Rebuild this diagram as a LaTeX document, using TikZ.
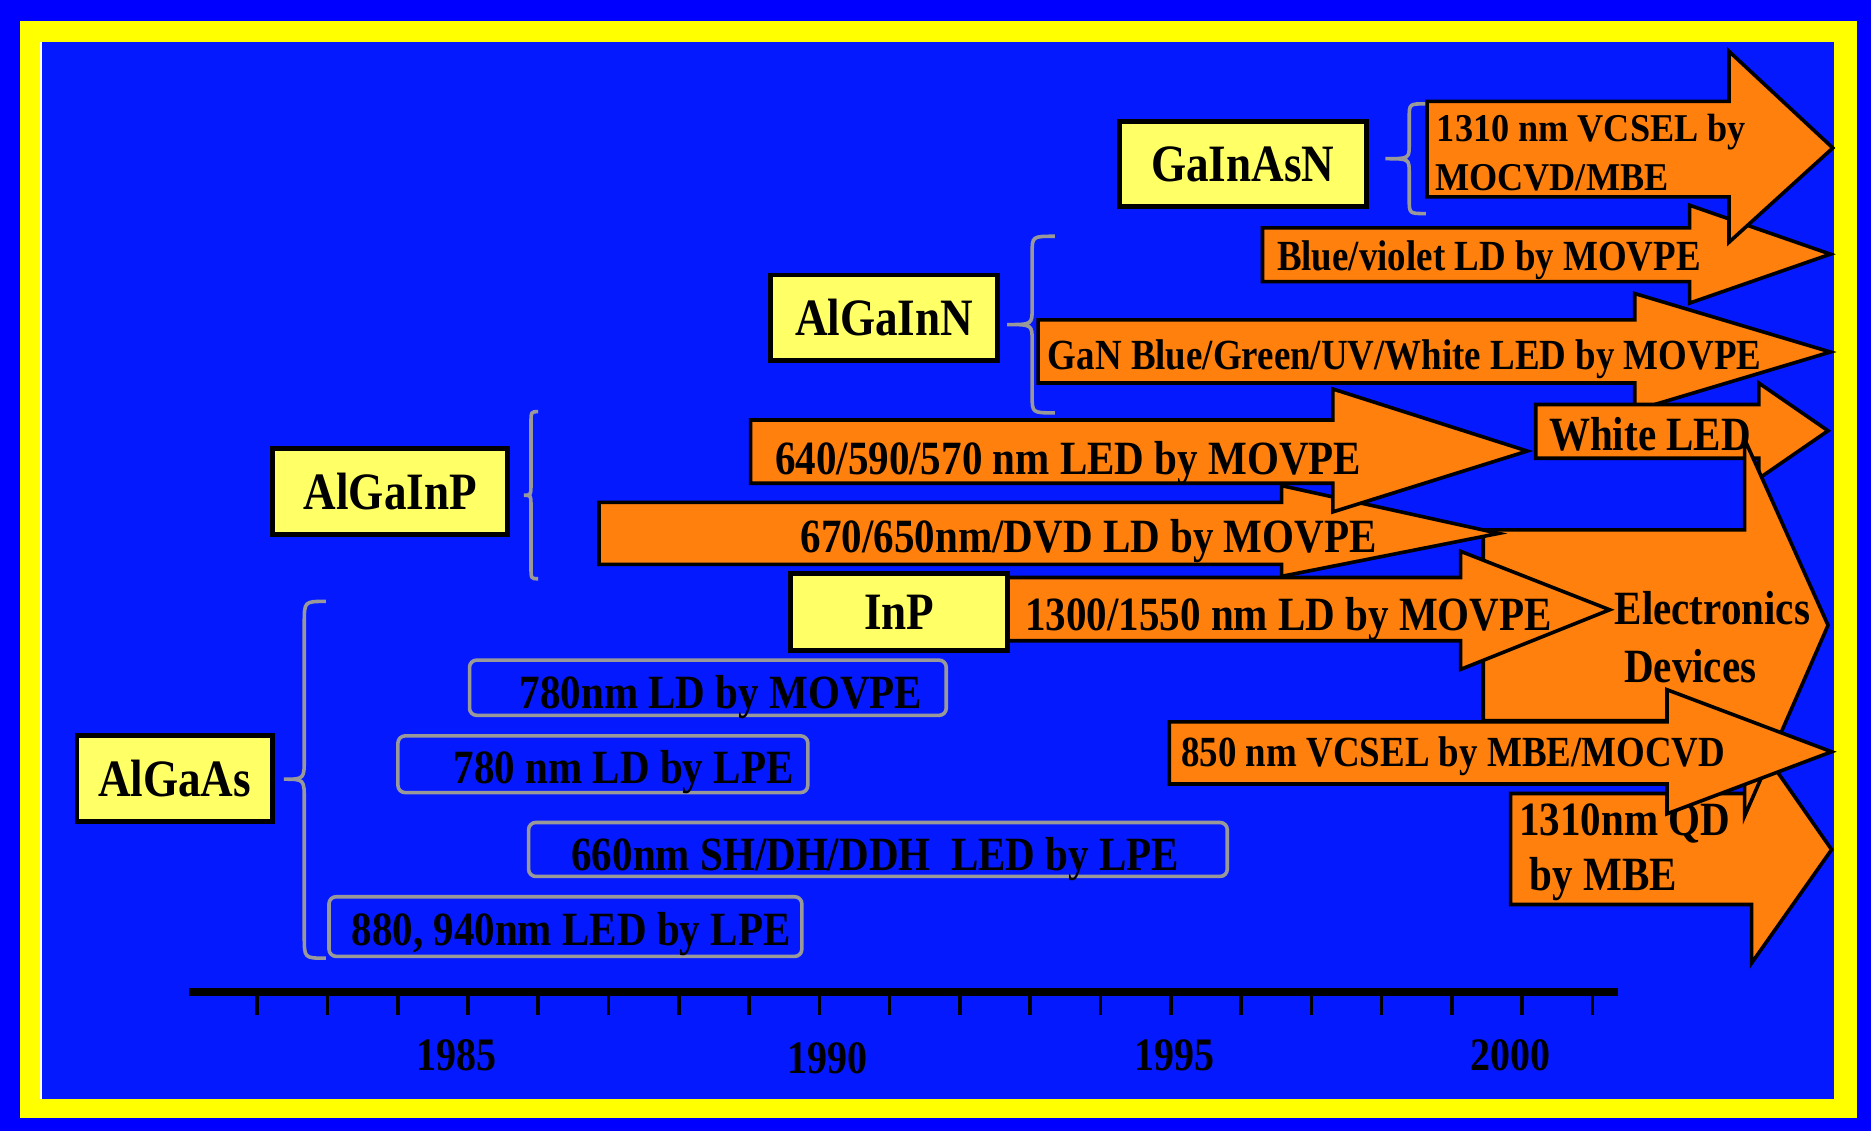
\documentclass[tikz,border=0pt]{standalone}
\usepackage{fontspec}
\setmainfont{Liberation Serif}[FakeStretch=0.86]
\newfontfamily\vcselfont{Liberation Serif}[FakeStretch=0.92]
\definecolor{outerblue}{RGB}{0,0,255}
\definecolor{innerblue}{RGB}{5,25,255}
\definecolor{frameyellow}{RGB}{255,255,0}
\definecolor{boxyellow}{RGB}{255,255,102}
\definecolor{arroworange}{RGB}{255,128,12}
\definecolor{bracegray}{RGB}{153,153,153}
\newcommand\orarrow[8]{\draw[orarrowst] (#1,#2) -- (#4,#2) -- (#4,#5) -- (#7,#8) -- (#4,#6) -- (#4,#3) -- (#1,#3) -- cycle;}
\newcommand\graybrace[7]{\draw[bracest] (#1,#4) .. controls (#2,#4) .. (#2,#4+#7) -- (#2,#5-#7) .. controls (#2,#5) .. (#3,#5) .. controls (#2,#5) .. (#2,#5+#7) -- (#2,#6-#7) .. controls (#2,#6) .. (#1,#6);}
\begin{document}
\begin{tikzpicture}[x=1pt,y=-1pt,
  orarrowst/.style={draw=black, line width=3pt, fill=arroworange, line join=miter},
  bracest/.style={draw=bracegray, line width=3pt},
  graybox/.style={draw=bracegray, line width=3pt, rounded corners=6pt},
  ybox/.style={draw=black, line width=4pt, fill=boxyellow, inner sep=0pt,
    font=\fontsize{44}{44}\selectfont\bfseries},
  tA/.style={anchor=west, inner sep=0pt, text height=26.5pt, text depth=0pt,
    font=\fontsize{40}{40}\selectfont\bfseries},
  tB/.style={anchor=west, inner sep=0pt, text height=23.8pt, text depth=0pt,
    font=\fontsize{36}{36}\selectfont\bfseries},
  tV/.style={anchor=west, inner sep=0pt, text height=21.8pt, text depth=0pt,
    font=\vcselfont\fontsize{33}{33}\selectfont\bfseries},
  tC/.style={anchor=center, inner sep=0pt, text height=26.5pt, text depth=0pt,
    font=\fontsize{40}{40}\selectfont\bfseries},
  yr/.style={anchor=center, inner sep=0pt, text height=26pt, text depth=0pt,
    font=\fontsize{39}{39}\selectfont\bfseries},
  tick/.style={line width=3pt}
]
\useasboundingbox (0,0) rectangle (1568,948);
% frame
\fill[outerblue] (0,0) rectangle (1568,948);
\fill[frameyellow] (17,18) rectangle (1556,937);
\fill[innerblue] (34,35) rectangle (1537,921);
\draw[white, line width=1.5pt] (34.5,35) -- (34.5,921);

% braces
\graybrace{1195}{1181}{1161}{87}{133}{179}{12}
\graybrace{884}{865}{844}{198}{272}{346}{14}
\graybrace{451}{445}{439}{345}{415}{485}{10}
\graybrace{273}{255}{238}{504}{653}{803}{18}

% gray boxes
\draw[graybox] (393.5,553.2) rectangle (793,599.5);
\node[tA] (b780movpe) at (435.4,580.4) {780nm LD by MOVPE};
\draw[graybox] (333.5,616.7) rectangle (677,664.2);
\node[tA] (b780lpe) at (380,643) {780 nm LD by LPE};
\draw[graybox] (443,689.3) rectangle (1028.5,734.5);
\node[tA] (b660) at (478.7,716.5) {660nm SH/DH/DDH\ \ LED by LPE};
\draw[graybox] (275.7,751.5) rectangle (672,801.5);
\node[tA] (b880) at (294.4,778.7) {880, 940nm LED by LPE};

% orange arrows
\orarrow{1058}{191}{236}{1416}{172}{254}{1534}{213}
\node[tB] (tblue) at (1070,215) {Blue/violet LD by MOVPE};
\orarrow{1196}{85}{165}{1449}{43}{203}{1536}{124}
\node[tV] (tvcsela) at (1204,107.5) {1310 nm VCSEL by};
\node[tV] (tvcselb) at (1202.5,148.6) {MOCVD/MBE};
\orarrow{870}{268}{321}{1370}{246}{344}{1534}{295}
\node[tB] (tgan) at (878,298) {GaN Blue/Green/UV/White LED by MOVPE};
\orarrow{1287}{339}{384}{1474}{321}{401}{1532}{361}
\node[tA] (twhite) at (1298,364) {White LED};
\orarrow{1266}{665}{758}{1468}{616}{807}{1535}{712}
\node[tA] (tqda) at (1273,687) {1310nm QD};
\node[tA] (tqdb) at (1282,733) {by MBE};
\orarrow{1243}{444}{604}{1462}{368}{684}{1532}{524}
\node[tC] (telec) at (1435,510) {Electronics};
\node[tC] (tdev) at (1416.5,559) {Devices};
\orarrow{502}{421}{473}{1074}{407}{483}{1256}{447}
\node[tA] (t670) at (671,450) {670/650nm/DVD LD by MOVPE};
\orarrow{629}{352}{405}{1117}{326}{429}{1280}{378}
\node[tA] (t640) at (649.3,384.8) {640/590/570 nm LED by MOVPE};
\orarrow{840}{484}{537}{1224}{462}{561}{1349}{511}
\node[tA] (t1300) at (859,514.8) {1300/1550 nm LD by MOVPE};
\orarrow{980}{605}{657}{1397}{578}{682}{1535}{630}
\node[tB] (t850) at (989.8,630.7) {850 nm VCSEL by MBE/MOCVD};

% material boxes
\node[ybox, minimum width=207pt, minimum height=71pt] (GaInAsN) at (1041.5,137.4) {GaInAsN};
\node[ybox, minimum width=190pt, minimum height=71.5pt] (AlGaInN) at (741,266.3) {AlGaInN};
\node[ybox, minimum width=197pt, minimum height=72pt] (AlGaInP) at (327.1,411.8) {AlGaInP};
\node[ybox, minimum width=182pt, minimum height=65pt] (InP) at (753.6,512.9) {InP};
\node[ybox, minimum width=163.5pt, minimum height=72pt] (AlGaAs) at (146.3,652.6) {AlGaAs};

% time axis
\draw[line width=6pt] (158,831.4) -- (1356,831.4);
\foreach \i in {0,...,19} \draw[tick] (215.5+58.9*\i,834) -- ++(0,17);
\node[yr] (y1985) at (382.7,884.2) {1985};
\node[yr] (y1990) at (693.5,886.3) {1990};
\node[yr] (y1995) at (984,884) {1995};
\node[yr] (y2000) at (1266,884) {2000};
\end{tikzpicture}
\end{document}
